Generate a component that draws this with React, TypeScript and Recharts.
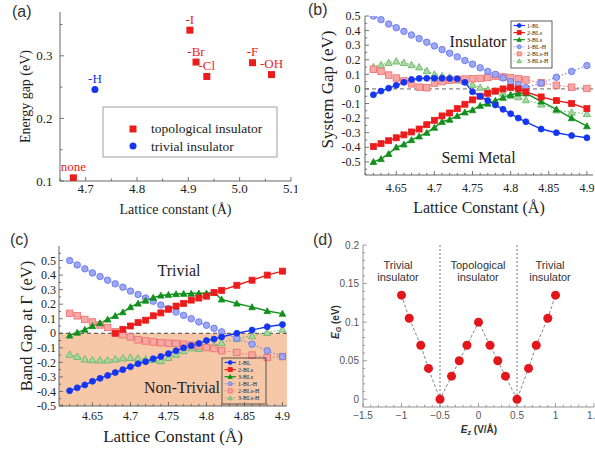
import React from "react";
import {
  ComposedChart,
  LabelList,
  Line,
  ReferenceArea,
  ReferenceLine,
  Scatter,
  ScatterChart,
  XAxis,
  YAxis,
} from "recharts";

const SERIF = "'Liberation Serif', 'Times New Roman', serif";
const SANS = "'Liberation Sans', Arial, sans-serif";

// (a) energy gap of the functionalised films vs lattice constant
const A_TOPO_NAMES = ["none", "-I", "-Br", "-Cl", "-F", "-OH"];
const A_TOPO_LATTICE = [4.676, 4.903, 4.915, 4.936, 5.025, 5.062];
const A_TOPO_GAP = [0.105, 0.341, 0.29, 0.267, 0.289, 0.27];
const A_TRIV_NAMES = ["-H"];
const A_TRIV_LATTICE = [4.718];
const A_TRIV_GAP = [0.246];
const A_X_TICKS = [4.7, 4.8, 4.9, 5.0, 5.1];
const A_Y_TICKS = [0.1, 0.2, 0.3];

// (b) + (c) share the same lattice grid
const LATTICE = [
  4.62, 4.63, 4.64, 4.65, 4.66, 4.67, 4.68, 4.69, 4.7, 4.71, 4.72, 4.73, 4.74,
  4.75, 4.76, 4.77, 4.78, 4.79, 4.8, 4.81, 4.82, 4.84, 4.86, 4.88, 4.9,
];
const LAT_X_TICKS = [4.65, 4.7, 4.75, 4.8, 4.85, 4.9];
const GAP_Y_TICKS = [-0.5, -0.4, -0.3, -0.2, -0.1, 0, 0.1, 0.2, 0.3, 0.4, 0.5];

// (b) system gap
const B_BL1 = [-0.04, -0.015, 0.005, 0.025, 0.045, 0.065, 0.072, 0.073, 0.073, 0.073, 0.072, 0.07, 0.045, -0.02, -0.05, -0.08, -0.11, -0.14, -0.17, -0.2, -0.225, -0.275, -0.3, -0.32, -0.335];
const B_BL2 = [-0.395, -0.375, -0.355, -0.335, -0.315, -0.295, -0.275, -0.245, -0.215, -0.185, -0.165, -0.135, -0.105, -0.075, -0.05, -0.03, -0.015, 0, 0.01, 0, -0.02, -0.055, -0.08, -0.1, -0.135];
const B_BL3 = [-0.5, -0.48, -0.445, -0.4, -0.38, -0.35, -0.325, -0.3, -0.265, -0.225, -0.21, -0.185, -0.16, -0.145, -0.115, -0.1, -0.08, -0.06, -0.04, -0.03, -0.03, -0.085, -0.14, -0.2, -0.255];
const B_BL1H = [0.5, 0.475, 0.445, 0.42, 0.395, 0.37, 0.345, 0.32, 0.295, 0.27, 0.245, 0.22, 0.195, 0.17, 0.145, 0.12, 0.1, 0.075, 0.05, 0.03, 0.01, 0.04, 0.08, 0.12, 0.16];
const B_BL2H = [0.135, 0.12, 0.095, 0.075, 0.055, 0.035, 0.012, 0.008, 0.04, 0.05, 0.06, 0.065, 0.068, 0.07, 0.072, 0.078, 0.088, 0.082, 0.078, 0.07, 0.062, 0.042, 0.025, 0.012, 0.003];
const B_BL3H = [0.15, 0.165, 0.18, 0.19, 0.18, 0.165, 0.15, 0.125, 0.1, 0.09, 0.08, 0.06, 0.05, 0.03, 0.01, -0.005, -0.015, -0.03, -0.045, -0.055, -0.075, -0.105, -0.145, -0.16, -0.17];

// (c) band gap at Gamma
const C_BL1 = [-0.395, -0.375, -0.355, -0.33, -0.31, -0.29, -0.27, -0.25, -0.23, -0.21, -0.195, -0.175, -0.16, -0.14, -0.12, -0.1, -0.085, -0.07, -0.05, -0.04, -0.025, 0, 0.022, 0.045, 0.06];
const C_BL2 = [null, null, null, null, null, null, 0, 0.027, 0.05, 0.073, 0.09, 0.12, 0.14, 0.165, 0.187, 0.205, 0.228, 0.242, 0.255, 0.28, 0.295, 0.33, 0.365, 0.4, 0.427];
const C_BL3 = [-0.015, 0.005, 0.025, 0.05, 0.07, 0.095, 0.12, 0.145, 0.18, 0.205, 0.225, 0.245, 0.26, 0.265, 0.27, 0.272, 0.273, 0.275, 0.275, 0.28, 0.233, 0.205, 0.18, 0.153, 0.135];
const C_BL1H = [0.5, 0.47, 0.443, 0.415, 0.39, 0.365, 0.34, 0.317, 0.29, 0.267, 0.242, 0.22, 0.194, 0.17, 0.146, 0.123, 0.1, 0.078, 0.055, 0.034, 0.01, -0.035, -0.075, -0.12, -0.16];
const C_BL2H = [0.137, 0.12, 0.095, 0.078, 0.057, 0.04, 0.01, -0.01, -0.025, -0.045, -0.053, -0.06, -0.065, -0.068, -0.07, -0.075, -0.082, -0.087, -0.098, -0.105, -0.12, -0.132, -0.15, -0.167, -0.16];
const C_BL3H = [-0.145, -0.16, -0.178, -0.183, -0.185, -0.185, -0.178, -0.171, -0.167, -0.173, -0.178, -0.182, -0.19, -0.167, -0.145, -0.12, -0.1, -0.105, -0.092, -0.082, -0.065, -0.037, -0.018, 0.005, 0.027];

// (d) gap vs vertical field
const D_FIELD = [-1, -0.9, -0.75, -0.65, -0.5, -0.35, -0.25, -0.15, 0, 0.15, 0.25, 0.35, 0.5, 0.65, 0.75, 0.9, 1];
const D_GAP = [0.135, 0.105, 0.07, 0.04, 0, 0.03, 0.05, 0.07, 0.1, 0.07, 0.05, 0.03, 0, 0.04, 0.07, 0.105, 0.135];
const D_X_TICKS = [-1.5, -1, -0.5, 0, 0.5, 1, 1.5];
const D_Y_TICKS = [0, 0.05, 0.1, 0.15, 0.2];
const D_PHASE_EDGES = [-0.5, 0.5];

const RED = "#ec1c1c";
const BLUE = "#1536f0";
const GREEN = "#12901c";

type Shape = "circle" | "square" | "triangle";
type SeriesStyle = { key: string; name: string; shape: Shape; color: string; fill: string; dotted: boolean };

// legend order; drawn in reverse so the solid curves sit on top
const SERIES: SeriesStyle[] = [
  { key: "bl1", name: "1-BL", shape: "circle", color: BLUE, fill: BLUE, dotted: false },
  { key: "bl2", name: "2-BLs", shape: "square", color: RED, fill: RED, dotted: false },
  { key: "bl3", name: "3-BLs", shape: "triangle", color: GREEN, fill: GREEN, dotted: false },
  { key: "bl1h", name: "1-BL-H", shape: "circle", color: "#5f70ee", fill: "#9ca7f6", dotted: true },
  { key: "bl2h", name: "2-BLs-H", shape: "square", color: "#ee6c6c", fill: "#f6a8a4", dotted: true },
  { key: "bl3h", name: "3-BLs-H", shape: "triangle", color: "#5fb35f", fill: "#a8d8a4", dotted: true },
];

const aTopo = A_TOPO_NAMES.map((name, i) => ({ name, x: A_TOPO_LATTICE[i], y: A_TOPO_GAP[i] }));
const aTriv = A_TRIV_NAMES.map((name, i) => ({ name, x: A_TRIV_LATTICE[i], y: A_TRIV_GAP[i] }));
const bRows = LATTICE.map((x, i) => ({ x, bl1: B_BL1[i], bl2: B_BL2[i], bl3: B_BL3[i], bl1h: B_BL1H[i], bl2h: B_BL2H[i], bl3h: B_BL3H[i] }));
const cRows = LATTICE.map((x, i) => ({ x, bl1: C_BL1[i], bl2: C_BL2[i], bl3: C_BL3[i], bl1h: C_BL1H[i], bl2h: C_BL2H[i], bl3h: C_BL3H[i] }));
const dRows = D_FIELD.map((x, i) => ({ x, gap: D_GAP[i] }));

const range = (from: number, to: number, step: number) => {
  const n = Math.round((to - from) / step);
  const out: number[] = [];
  for (let i = 0; i <= n; i++) out.push(Math.round((from + i * step) * 1e6) / 1e6);
  return out;
};

const latFmt = (v: number) => String(Number(v.toFixed(2)));
const gapFmt = (v: number) => (Math.abs(v) < 1e-9 ? "0" : v.toFixed(1));

function Marker({ cx, cy, shape, color, fill, size }: { cx: number; cy: number; shape: Shape; color: string; fill: string; size: number }) {
  const r = size / 2;
  if (shape === "circle") return <circle cx={cx} cy={cy} r={r} fill={fill} stroke={color} strokeWidth={0.8} />;
  if (shape === "square") return <rect x={cx - r} y={cy - r} width={size} height={size} fill={fill} stroke={color} strokeWidth={0.8} />;
  const t = r * 1.1;
  return <polygon points={`${cx},${cy - t} ${cx + t},${cy + t * 0.8} ${cx - t},${cy + t * 0.8}`} fill={fill} stroke={color} strokeWidth={0.8} />;
}

// ticks drawn by hand so they point inwards and minor ticks can be shorter
type TickOpts = {
  side: "bottom" | "top" | "left" | "right";
  majors: number[];
  format?: (v: number) => string;
  len: number;
  minorLen: number;
  gap: number;
  font: string;
  size: number;
  color: string;
  lineColor: string;
};

function makeTick(o: TickOpts) {
  return (props: any) => {
    const { x, y, payload } = props;
    const v = Number(payload.value);
    const major = o.majors.some((m) => Math.abs(m - v) < 1e-6);
    const l = major ? o.len : o.minorLen;
    let x2 = x;
    let y2 = y;
    if (o.side === "bottom") y2 = y - l;
    if (o.side === "top") y2 = y + l;
    if (o.side === "left") x2 = x + l;
    if (o.side === "right") x2 = x - l;
    let label = null;
    if (major && o.format && o.side === "bottom") {
      label = (
        <text x={x} y={y + o.gap + o.size * 0.72} textAnchor="middle" fontSize={o.size} fontFamily={o.font} fill={o.color}>
          {o.format(v)}
        </text>
      );
    }
    if (major && o.format && o.side === "left") {
      label = (
        <text x={x - o.gap} y={y + o.size * 0.35} textAnchor="end" fontSize={o.size} fontFamily={o.font} fill={o.color}>
          {o.format(v)}
        </text>
      );
    }
    return (
      <g>
        <line x1={x} y1={y} x2={x2} y2={y2} stroke={o.lineColor} strokeWidth={0.8} />
        {label}
      </g>
    );
  };
}

type FrameCfg = {
  xDomain: [number, number];
  yDomain: [number, number];
  xTicks: number[];
  yTicks: number[];
  xMajor: number[];
  yMajor: number[];
  xFormat: (v: number) => string;
  yFormat: (v: number) => string;
  xHeight: number;
  yWidth: number;
  font: string;
  size: number;
  textColor: string;
  lineColor: string;
  len: number;
  minorLen: number;
  xGap: number;
  yGap: number;
  yKey?: string;
  xTitle?: any;
  yTitle?: any;
};

function frameAxes(c: FrameCfg) {
  const base = { font: c.font, size: c.size, color: c.textColor, lineColor: c.lineColor, len: c.len, minorLen: c.minorLen };
  const shared = { type: "number" as const, allowDataOverflow: true, interval: 0 as const, tickLine: false, tickSize: 0, tickMargin: 0, axisLine: { stroke: c.lineColor, strokeWidth: 0.9 } };
  return [
    <XAxis key="xb" {...shared} dataKey="x" orientation="bottom" domain={c.xDomain} ticks={c.xTicks} height={c.xHeight}
      tick={makeTick({ ...base, side: "bottom", majors: c.xMajor, format: c.xFormat, gap: c.xGap })} label={c.xTitle} />,
    <XAxis key="xt" {...shared} xAxisId="top" dataKey="x" orientation="top" domain={c.xDomain} ticks={c.xTicks} height={0}
      tick={makeTick({ ...base, side: "top", majors: c.xMajor, gap: 0 })} />,
    <YAxis key="yl" {...shared} dataKey={c.yKey} orientation="left" domain={c.yDomain} ticks={c.yTicks} width={c.yWidth}
      tick={makeTick({ ...base, side: "left", majors: c.yMajor, format: c.yFormat, gap: c.yGap })} label={c.yTitle} />,
    <YAxis key="yr" {...shared} yAxisId="right" orientation="right" domain={c.yDomain} ticks={c.yTicks} width={0}
      tick={makeTick({ ...base, side: "right", majors: c.yMajor, gap: 0 })} />,
  ];
}

function Panel({ left, top, width, height, children, overlay }: { left: number; top: number; width: number; height: number; children: React.ReactNode; overlay: React.ReactNode }) {
  return (
    <div style={{ position: "absolute", left, top, width, height }}>
      {children}
      <svg width={width} height={height} style={{ position: "absolute", left: 0, top: 0, pointerEvents: "none", overflow: "visible" }}>
        {overlay}
      </svg>
    </div>
  );
}

const PanelTag = ({ x, y, text }: { x: number; y: number; text: string }) => (
  <text x={x} y={y} fontSize={16} fontFamily={SANS} fill="#333">{text}</text>
);

function LatticeLegend({ x, y, w, h }: { x: number; y: number; w: number; h: number }) {
  return (
    <g>
      <rect x={x} y={y} width={w} height={h} fill="none" stroke="#333" strokeWidth={0.8} />
      {SERIES.map((s, i) => {
        const cy = y + 4.5 + i * 7.1;
        return (
          <g key={s.key}>
            <line x1={x + 2.5} x2={x + 14} y1={cy} y2={cy} stroke={s.color} strokeWidth={s.dotted ? 0.8 : 1.2} strokeDasharray={s.dotted ? "1 1.2" : undefined} />
            <Marker cx={x + 8.2} cy={cy} shape={s.shape} color={s.color} fill={s.fill} size={4} />
            <text x={x + 16} y={cy + 2} fontSize={6} fontFamily={SERIF} fill="#222">{s.name}</text>
          </g>
        );
      })}
    </g>
  );
}

function latticeLines() {
  return [...SERIES].reverse().map((s) => (
    <Line
      key={s.key}
      type="linear"
      dataKey={s.key}
      stroke={s.color}
      strokeWidth={s.dotted ? 1 : 1.4}
      strokeDasharray={s.dotted ? "1.5 2" : undefined}
      isAnimationActive={false}
      activeDot={false}
      dot={(p: any) =>
        p.cy == null || Number.isNaN(p.cy) ? (
          <g key={`${s.key}-${p.index}`} />
        ) : (
          <g key={`${s.key}-${p.index}`}>
            <Marker cx={p.cx} cy={p.cy} shape={s.shape} color={s.color} fill={s.fill} size={s.dotted ? 6.5 : 6} />
          </g>
        )
      }
    />
  ));
}

function PanelA() {
  return (
    <ScatterChart width={297} height={225} margin={{ top: 12, right: 6, bottom: 0, left: 0 }}>
      {frameAxes({
        xDomain: [4.65, 5.1], yDomain: [0.1, 0.37],
        xTicks: range(4.65, 5.1, 0.05), yTicks: range(0.1, 0.35, 0.05),
        xMajor: A_X_TICKS, yMajor: A_Y_TICKS,
        xFormat: (v) => v.toFixed(1), yFormat: (v) => v.toFixed(1),
        xHeight: 44, yWidth: 60, font: SERIF, size: 13, textColor: "#222", lineColor: "#555",
        len: 4, minorLen: 2.5, xGap: 3, yGap: 7.5, yKey: "y",
        xTitle: { value: "Lattice constant (Å)", position: "center", dy: 6, fontSize: 14, fontFamily: SERIF, fill: "#222" },
        yTitle: { value: "Energy gap (eV)", position: "center", angle: -90, dx: -5, fontSize: 14, fontFamily: SERIF, fill: "#222" },
      })}
      <Scatter data={aTopo} fill={RED} isAnimationActive={false}
        shape={(p: any) => <rect x={p.cx - 3.5} y={p.cy - 3.5} width={7} height={7} fill={RED} />}>
        <LabelList dataKey="name" position="top" offset={2} fill={RED} fontSize={13} fontFamily={SERIF} />
      </Scatter>
      <Scatter data={aTriv} fill={BLUE} isAnimationActive={false}
        shape={(p: any) => <circle cx={p.cx} cy={p.cy} r={3.5} fill={BLUE} />}>
        <LabelList dataKey="name" position="top" offset={2} fill={BLUE} fontSize={13} fontFamily={SERIF} />
      </Scatter>
    </ScatterChart>
  );
}

function PanelB() {
  return (
    <ComposedChart width={298} height={225} data={bRows} margin={{ top: 16, right: 2, bottom: 0, left: 0 }}>
      {frameAxes({
        xDomain: [4.609, 4.908], yDomain: [-0.59, 0.5],
        xTicks: range(4.61, 4.9, 0.01), yTicks: range(-0.55, 0.5, 0.05),
        xMajor: LAT_X_TICKS, yMajor: GAP_Y_TICKS,
        xFormat: latFmt, yFormat: gapFmt,
        xHeight: 50, yWidth: 68, font: SERIF, size: 12, textColor: "#222", lineColor: "#555",
        len: 4, minorLen: 2.2, xGap: 8, yGap: 4.5,
        xTitle: { value: "Lattice Constant (Å)", position: "center", dy: 7, fontSize: 16, fontFamily: SERIF, fill: "#222" },
        yTitle: { value: "System Gap (eV)", position: "center", angle: -90, dx: -4, dy: -6, fontSize: 17, fontFamily: SERIF, fill: "#222" },
      })}
      <ReferenceLine y={0} stroke="#666" strokeDasharray="4 3" strokeWidth={1} />
      {latticeLines()}
    </ComposedChart>
  );
}

function PanelC() {
  return (
    <ComposedChart width={297} height={225} data={cRows} margin={{ top: 21, right: 10, bottom: 0, left: 0 }}>
      <ReferenceArea y1={-0.5} y2={0} fill="#f6c8a8" fillOpacity={1} stroke="none" />
      {frameAxes({
        xDomain: [4.606, 4.906], yDomain: [-0.5, 0.6],
        xTicks: range(4.61, 4.9, 0.01), yTicks: range(-0.5, 0.55, 0.05),
        xMajor: LAT_X_TICKS, yMajor: GAP_Y_TICKS,
        xFormat: latFmt, yFormat: gapFmt,
        xHeight: 44, yWidth: 59, font: SERIF, size: 12, textColor: "#222", lineColor: "#555",
        len: 4, minorLen: 2.2, xGap: 5, yGap: 3,
        xTitle: { value: "Lattice Constant (Å)", position: "center", dy: 8, fontSize: 17, fontFamily: SERIF, fill: "#222" },
        yTitle: { value: "Band Gap at Γ (eV)", position: "center", angle: -90, dx: -3, fontSize: 16.5, fontFamily: SERIF, fill: "#222" },
      })}
      <ReferenceLine y={0} stroke="#444" strokeDasharray="4 3" strokeWidth={1} />
      {latticeLines()}
    </ComposedChart>
  );
}

function PanelD() {
  return (
    <ComposedChart width={298} height={225} data={dRows} margin={{ top: 20, right: 1, bottom: 0, left: 0 }}>
      {frameAxes({
        xDomain: [-1.5, 1.5], yDomain: [-0.01, 0.2],
        xTicks: range(-1.5, 1.5, 0.1), yTicks: range(0, 0.2, 0.01),
        xMajor: D_X_TICKS, yMajor: D_Y_TICKS,
        xFormat: (v) => (v === 0 ? "0" : String(v).replace("-", "\u2212")), yFormat: (v) => String(v),
        xHeight: 43, yWidth: 66, font: SANS, size: 10, textColor: "#555", lineColor: "#888",
        len: 4, minorLen: 2.2, xGap: 5, yGap: 4,
      })}
      {D_PHASE_EDGES.map((e) => (
        <ReferenceLine key={e} x={e} stroke="#555" strokeDasharray="2 2" strokeWidth={0.8} />
      ))}
      <Line
        type="linear"
        dataKey="gap"
        stroke="#666"
        strokeWidth={0.8}
        strokeDasharray="3 2"
        isAnimationActive={false}
        activeDot={false}
        dot={{ r: 4.5, fill: "#e3161b", stroke: "none" }}
      />
    </ComposedChart>
  );
}

export default function App() {
  return (
    <div style={{ position: "absolute", left: 0, top: 0, width: 595, height: 450, background: "#fff", overflow: "hidden" }}>
      <Panel left={0} top={0} width={297} height={225}
        overlay={
          <>
            <PanelTag x={12} y={16.5} text="(a)" />
            <rect x={103} y={107} width={174} height={50} fill="#fff" stroke="#888" strokeWidth={0.8} />
            <rect x={129.5} y={125.5} width={7} height={7} fill={RED} />
            <text x={151} y={133} fontSize={13.5} fontFamily={SERIF} fill="#222">topological insulator</text>
            <circle cx={133} cy={146} r={3.5} fill={BLUE} />
            <text x={151} y={150.5} fontSize={13.5} fontFamily={SERIF} fill="#222">trivial insulator</text>
          </>
        }>
        <PanelA />
      </Panel>
      <Panel left={297} top={0} width={298} height={225}
        overlay={
          <>
            <PanelTag x={11} y={14.5} text="(b)" />
            <text x={181} y={46.5} textAnchor="middle" fontSize={16} fontFamily={SERIF} fill="#222">Insulator</text>
            <text x={181.5} y={163} textAnchor="middle" fontSize={16} fontFamily={SERIF} fill="#222">Semi Metal</text>
            <LatticeLegend x={214} y={21} w={41} h={47} />
          </>
        }>
        <PanelB />
      </Panel>
      <Panel left={0} top={225} width={297} height={225}
        overlay={
          <>
            <PanelTag x={10} y={19.5} text="(c)" />
            <text x={179} y={50.5} textAnchor="middle" fontSize={16} fontFamily={SERIF} fill="#222">Trivial</text>
            <text x={182} y={167.5} textAnchor="middle" fontSize={16} fontFamily={SERIF} fill="#222">Non-Trivial</text>
            <LatticeLegend x={222} y={133} w={44} h={46} />
          </>
        }>
        <PanelC />
      </Panel>
      <Panel left={297} top={225} width={298} height={225}
        overlay={
          <>
            <PanelTag x={16} y={19.5} text="(d)" />
            {[
              { x: 101, a: "Trivial", b: "insulator" },
              { x: 181, a: "Topological", b: "insulator" },
              { x: 253, a: "Trivial", b: "insulator" },
            ].map((t) => (
              <g key={t.x}>
                <text x={t.x} y={43.5} textAnchor="middle" fontSize={11} fontFamily={SANS} fill="#333">{t.a}</text>
                <text x={t.x} y={56} textAnchor="middle" fontSize={11} fontFamily={SANS} fill="#333">{t.b}</text>
              </g>
            ))}
            <text transform="translate(41.5 97) rotate(-90)" textAnchor="middle" fontSize={10} fontFamily={SANS} fontWeight="bold" fill="#333">
              <tspan fontStyle="italic">E</tspan>
              <tspan fontSize={7} dy={2} fontStyle="italic">G</tspan>
              <tspan dy={-2}> (eV)</tspan>
            </text>
            <text x={182} y={207.5} textAnchor="middle" fontSize={10} fontFamily={SANS} fontWeight="bold" fill="#333">
              <tspan fontStyle="italic">E</tspan>
              <tspan fontSize={7} dy={2} fontStyle="italic">z</tspan>
              <tspan dy={-2}> (V/Å)</tspan>
            </text>
          </>
        }>
        <PanelD />
      </Panel>
    </div>
  );
}
